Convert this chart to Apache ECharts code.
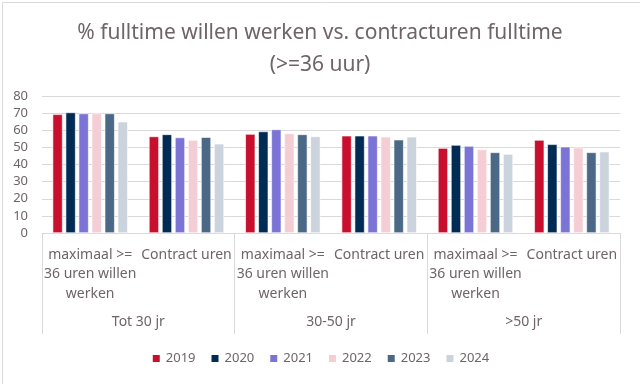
<!DOCTYPE html>
<html>
<head>
<meta charset="utf-8">
<script src="https://cdn.jsdelivr.net/npm/echarts@6/dist/echarts.min.js"></script>
<style>
html,body{margin:0;padding:0;background:#fff;}
#chart{width:640px;height:384px;}
</style>
</head>
<body>
<div id="chart"></div>
<script>
const subCategories = [
  "maximaal >=\n36 uren willen\nwerken", "Contract uren",
  "maximaal >=\n36 uren willen\nwerken", "Contract uren",
  "maximaal >=\n36 uren willen\nwerken", "Contract uren"
];
const groups = ["Tot 30 jr", "30-50 jr", ">50 jr"];
const years = ["2019", "2020", "2021", "2022", "2023", "2024"];
const v2019 = [69.3, 56.4, 57.8, 56.8, 49.6, 54.3];
const v2020 = [70.4, 57.6, 59.3, 56.8, 51.4, 51.8];
const v2021 = [69.8, 55.8, 60.5, 56.8, 50.8, 50.4];
const v2022 = [69.8, 54.3, 58.2, 56.2, 48.8, 49.8];
const v2023 = [69.8, 56.0, 57.6, 54.5, 47.1, 47.1];
const v2024 = [65.0, 52.1, 56.4, 56.2, 46.1, 47.5];
const yTicks = [0, 10, 20, 30, 40, 50, 60, 70, 80];

const seriesValues = [v2019, v2020, v2021, v2022, v2023, v2024];
const colors = ["#C8102E", "#002B55", "#7B74D6", "#F5CDD4", "#4B6886", "#CBD3DD"];
const textColor = "#6f6466";
const font = "Noto Sans";

const chart = echarts.init(document.getElementById('chart'));
chart.setOption({
  animation: false,
  textStyle: { fontFamily: font },
  title: {
    text: "% fulltime willen werken vs. contracturen fulltime\n(>=36 uur)",
    left: 'center',
    top: 12,
    textStyle: { fontFamily: font, fontSize: 21, fontWeight: 'normal', color: textColor, lineHeight: 32 }
  },
  graphic: [{
    type: 'rect', left: 0, top: 0,
    shape: { width: 639, height: 383 },
    style: { fill: 'none', stroke: '#d9d9d9', lineWidth: 1 }
  }],
  legend: {
    data: years,
    bottom: 14,
    left: 'center',
    itemWidth: 9, itemHeight: 9, itemGap: 14,
    icon: 'rect',
    textStyle: { fontFamily: font, fontSize: 13, color: textColor }
  },
  grid: { left: 42, right: 20, top: 96, bottom: 151, containLabel: false },
  xAxis: [{
    type: 'category',
    data: subCategories,
    axisLine: { show: true, lineStyle: { color: '#d9d9d9' } },
    axisTick: { show: false },
    axisLabel: { interval: 0, margin: 12, fontSize: 14, lineHeight: 19.5, color: textColor, fontFamily: font }
  }, {
    type: 'category',
    data: groups,
    position: 'bottom',
    axisLine: { show: false },
    axisTick: { show: true, length: 101, interval: 0, lineStyle: { color: '#d9d9d9' } },
    axisLabel: { interval: 0, margin: 82, fontSize: 14, color: textColor, fontFamily: font }
  }],
  yAxis: {
    type: 'value',
    min: 0, max: 80, interval: 10,
    axisLine: { show: false },
    axisTick: { show: false },
    splitLine: { lineStyle: { color: '#d9d9d9' } },
    axisLabel: {
      margin: 14, fontSize: 13, color: textColor, fontFamily: font,
      formatter: v => yTicks.includes(v) ? String(v) : ''
    }
  },
  series: years.map((y, i) => ({
    name: y,
    type: 'bar',
    xAxisIndex: 0,
    data: seriesValues[i],
    barGap: '30%',
    barCategoryGap: '22%',
    itemStyle: { color: colors[i], borderColor: '#ffffff', borderWidth: 0.6 }
  }))
});
</script>
</body>
</html>
